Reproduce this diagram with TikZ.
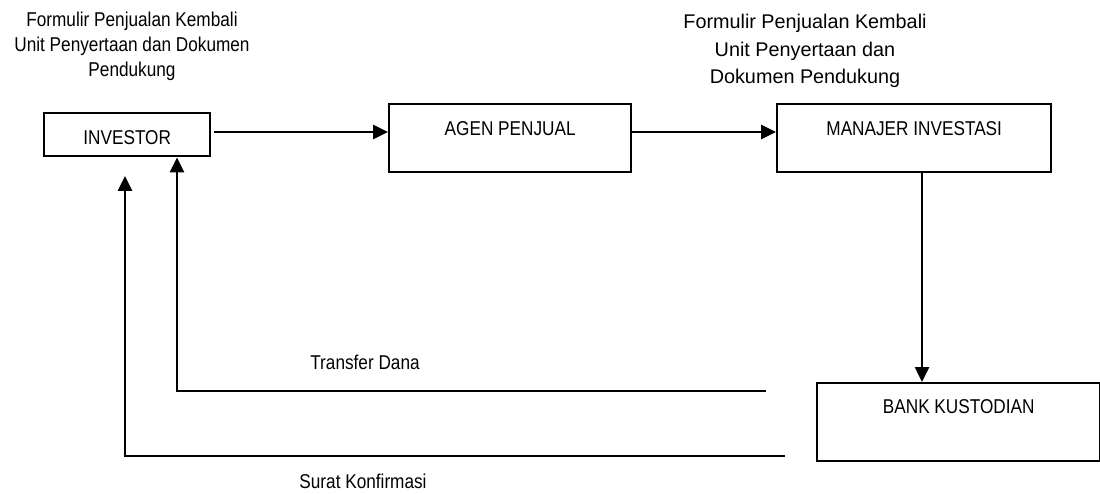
\documentclass[tikz,border=0pt]{standalone}
\usepackage{fontspec}
\setmainfont{Liberation Sans}
\newfontfamily\narrowfont[FakeStretch=0.86]{Liberation Sans}
\usetikzlibrary{arrows.meta}
\begin{document}
\begin{tikzpicture}[x=1pt,y=-1pt,
  box/.style={draw, line width=2.4pt, inner sep=0pt, font=\narrowfont\fontsize{20}{25}\selectfont},
  lbl/.style={inner sep=0pt, anchor=base, font=\narrowfont\fontsize{20}{25}\selectfont},
  flow/.style={line width=2.6pt, -{Triangle[length=15pt,width=14pt]}},
  plain/.style={line width=2.6pt}]
\useasboundingbox (0,0) rectangle (1100,494);
% boxes
\node[box, minimum width=166pt, text height=31pt, text depth=12pt, anchor=north west] (investor) at (43,112) {INVESTOR};
\node[box, minimum width=242pt, text height=31pt, text depth=37pt, anchor=north west] (agen) at (388,103) {AGEN PENJUAL};
\node[box, minimum width=274pt, text height=31pt, text depth=37pt, anchor=north west] (manajer) at (776,103) {MANAJER INVESTASI};
\node[box, minimum width=283pt, text height=30pt, text depth=48pt, anchor=north west] (bank) at (816,382) {BANK KUSTODIAN};
% labels
\node[lbl, align=center] (lblA) at (132,77) {Formulir Penjualan Kembali\\Unit Penyertaan dan Dokumen\\Pendukung};
\node[lbl, align=center, font=\fontsize{19.8}{27.5}\selectfont] (lblB) at (805,84) {Formulir Penjualan Kembali\\Unit Penyertaan dan\\Dokumen Pendukung};
\node[lbl] (lblT) at (365,369) {Transfer Dana};
\node[lbl] (lblS) at (363,488) {Surat Konfirmasi};
% connectors
\draw[flow, shorten <=3pt] (investor.east |- 0,132) -- (agen.west |- 0,132);
\draw[flow] (agen.east |- 0,132) -- (manajer.west |- 0,132);
\coordinate (dn) at (922,0);
\draw[flow] (manajer.south -| dn) -- (bank.north -| dn);
\coordinate (td) at (766,391);
\coordinate (tdx) at (177,0);
\draw[flow] (td) -| (investor.south -| tdx);
\coordinate (sk) at (785,456);
\coordinate (sktip) at (125,176);
\draw[flow] (sk) -| (sktip);
\end{tikzpicture}
\end{document}
